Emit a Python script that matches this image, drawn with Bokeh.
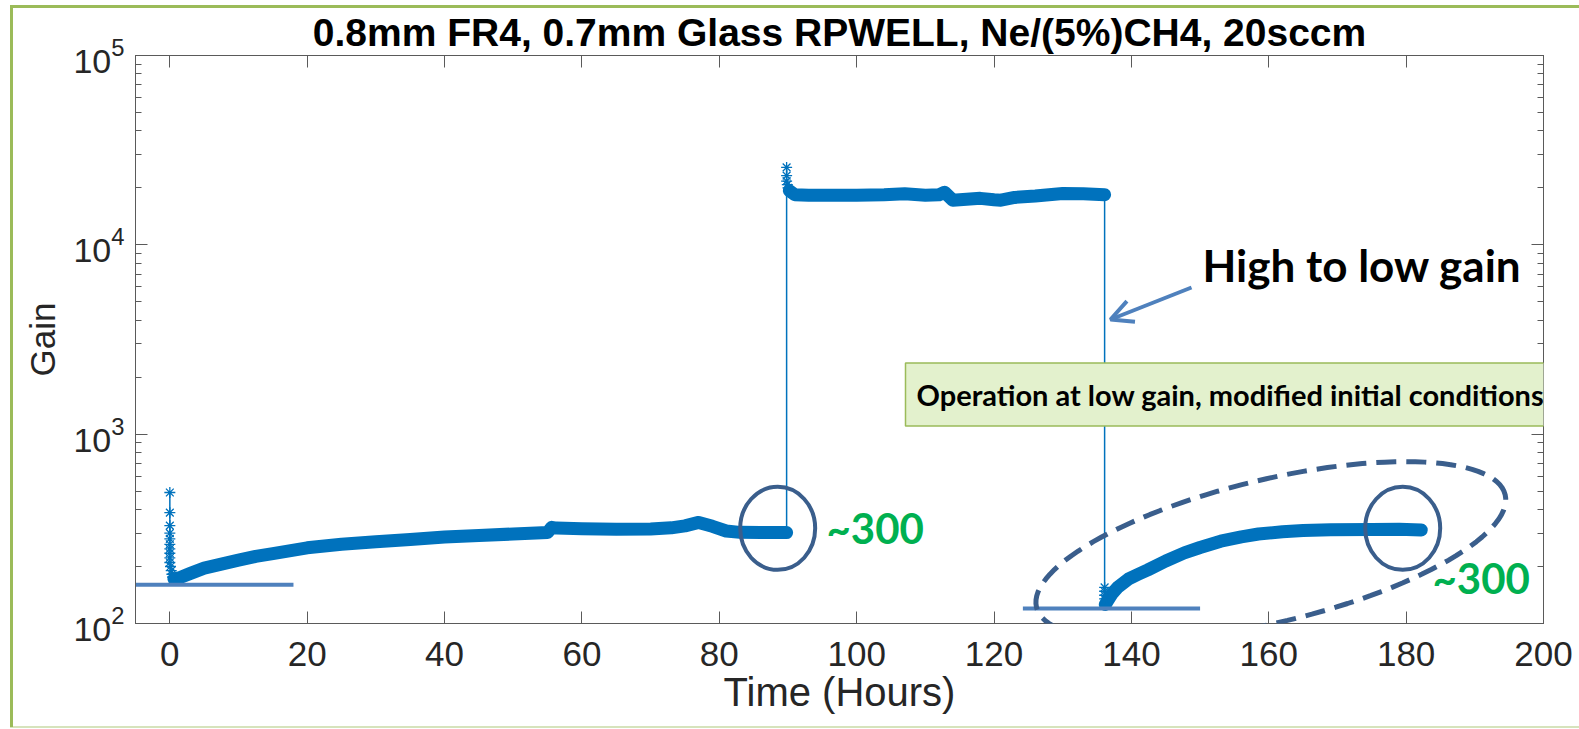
import math

from bokeh.plotting import figure
from bokeh.models import (Range1d, LinearAxis, LogAxis, SingleIntervalTicker, LogTicker,
                          Label, Arrow, OpenHead, PolyAnnotation, CustomJSTickFormatter)
from bokeh.embed import file_html
from bokeh.resources import INLINE

# ---------------- data: gain vs time (hours) ----------------
# start-up transient right after switching on
spike1_t = [0, 0, 0, 0, 0, 0, 0, 0, 0, 0, 0.1, 0.2, 0.3, 0.4]
spike1_g = [492, 385, 329, 300, 280, 262, 248, 235, 222, 210, 200, 190, 182, 176]

# first run at low gain
run1_t = [0.6, 1.5, 3, 5, 7.5, 10, 12.5, 15, 20, 25, 30, 35, 40, 45, 50, 55,
          55.6, 56.3, 60, 65, 70, 73, 75, 77, 79, 81, 83, 86, 89.8]
run1_g = [172, 175, 184, 196, 206, 216, 226, 234, 251, 262, 270, 278, 286, 292, 297, 302,
          322, 319, 317, 315, 316, 320, 328, 342, 326, 308, 303, 302, 302]

# switch to high gain
spike2_t = [89.8, 89.8, 89.8, 89.9, 90.0, 90.1]
spike2_g = [25650, 23200, 21700, 20800, 20000, 19500]

run2_t = [90.2, 91, 93, 96, 100, 104, 107, 110, 112, 112.8, 114, 116, 118, 120, 121,
          123, 126, 130, 133, 136.1]
run2_g = [19300, 18400, 18300, 18300, 18300, 18400, 18600, 18300, 18400, 18950, 17200,
          17400, 17600, 17300, 17200, 17800, 18100, 18650, 18600, 18400]

# back to low gain
spike3_t = [136.1, 136.1, 136.1, 136.1]
spike3_g = [155, 148, 141, 135]

run3_t = [136.2, 136.6, 137.2, 138, 139.6, 141, 142.4, 145, 147.7, 150, 153, 156,
          158.5, 162, 165, 169, 175, 179, 182.2]
run3_g = [126, 133, 144, 155, 172, 182, 192, 214, 236, 252, 272, 287, 297, 305, 310,
          313, 314, 315, 312]

# reference levels drawn by hand on the slide
ref_x0 = [-5, 124.2]
ref_x1 = [18, 150]
ref_g = [160, 120]

# "~300" markers
mark_t = [88.5, 179.5]
mark_g = [318, 318]

x_ticks_step = 20

# ---------------- layout ----------------
W, H = 1579, 729
FL, FT, FW, FH = 135, 55, 1408, 568        # plot frame box on the canvas (px)
X_LO, X_HI = -5, 200
Y_LO, Y_HI = 1e2, 1e5
LY0, LY1 = math.log10(Y_LO), math.log10(Y_HI)


def dx(px):
    """canvas pixel column -> time value"""
    return X_LO + (px - FL) * (X_HI - X_LO) / FW


def dy(py):
    """canvas pixel row -> gain value"""
    return 10 ** (LY0 + (FT + FH - py) * (LY1 - LY0) / FH)


def px_of(x):
    return FL + (x - X_LO) * FW / (X_HI - X_LO)


def py_of(g):
    return FT + FH - (math.log10(g) - LY0) * FH / (LY1 - LY0)


BLUE = "#0072BD"
AX = "#5a5a5a"
TXT = "#262626"
RING = "#3A5E8C"
OFFICE_BLUE = "#4F81BD"
GREEN = "#00B050"
SLIDE_GREEN = "#9BBB59"
BLANK = CustomJSTickFormatter(code="return ''")

# slide frame behind the (transparent) canvas border area
bar = "linear-gradient({c},{c})"
slide_bg = ", ".join([
    f"{bar.format(c=SLIDE_GREEN)} 10px 5px / 1700px 3px no-repeat",
    f"{bar.format(c=SLIDE_GREEN)} 10px 5px / 3px 722px no-repeat",
    f"{bar.format(c='#D6E3BC')} 10px 726px / 1700px 2px no-repeat",
    "white",
])

p = figure(width=W, height=H, x_range=Range1d(X_LO, X_HI), y_range=Range1d(Y_LO, Y_HI),
           y_axis_type="log", output_backend="svg", toolbar_location=None,
           min_border_left=FL, min_border_right=W - FL - FW,
           min_border_top=FT, min_border_bottom=H - FT - FH,
           title="0.8mm FR4, 0.7mm Glass RPWELL, Ne/(5%)CH4, 20sccm",
           styles={"background": slide_bg})
p.grid.visible = False
p.outline_line_color = AX
p.background_fill_color = "white"
p.border_fill_color = None

p.title.align = "center"
p.title.vertical_align = "top"
p.title.text_font = "Liberation Sans"
p.title.text_font_style = "bold"
p.title.text_font_size = "39px"
p.title.text_color = "black"
p.title.offset = 2
p.title.standoff = 0

# bottom axis
xa = p.xaxis[0]
xa.ticker = SingleIntervalTicker(interval=x_ticks_step, num_minor_ticks=0)
xa.major_tick_in = 12
xa.major_tick_out = 0
xa.minor_tick_in = 0
xa.minor_tick_out = 0
xa.axis_line_color = AX
xa.major_tick_line_color = AX
xa.major_label_text_font = "Liberation Sans"
xa.major_label_text_font_size = "35px"
xa.major_label_text_color = TXT
xa.major_label_standoff = 18
xa.axis_label = "Time (Hours)"
xa.axis_label_text_font = "Liberation Sans"
xa.axis_label_text_font_size = "40px"
xa.axis_label_text_font_style = "normal"
xa.axis_label_text_color = TXT
xa.axis_label_standoff = 1

# top axis (ticks only)
xt = LinearAxis(ticker=SingleIntervalTicker(interval=x_ticks_step, num_minor_ticks=0),
                formatter=BLANK, major_label_text_font_size="1px", major_label_standoff=0,
                major_tick_in=12, major_tick_out=0, minor_tick_in=0, minor_tick_out=0,
                axis_line_color=AX, major_tick_line_color=AX)
p.add_layout(xt, "above")

# left log axis
ya = p.yaxis[0]
ya.ticker = LogTicker(num_minor_ticks=10)
ya.major_tick_in = 12
ya.major_tick_out = 0
ya.minor_tick_in = 6
ya.minor_tick_out = 0
ya.axis_line_color = AX
ya.major_tick_line_color = AX
ya.minor_tick_line_color = AX
ya.major_label_text_font = "Liberation Sans"
ya.major_label_text_font_size = "34px"
ya.major_label_text_color = TXT
ya.major_label_standoff = 11
ya.axis_label = "Gain"
ya.axis_label_text_font = "Liberation Sans"
ya.axis_label_text_font_size = "35px"
ya.axis_label_text_font_style = "normal"
ya.axis_label_text_color = TXT
ya.axis_label_standoff = 8

yr = LogAxis(ticker=LogTicker(num_minor_ticks=10), formatter=BLANK,
             major_label_text_font_size="1px", major_label_standoff=0,
             major_tick_in=12, major_tick_out=0, minor_tick_in=6, minor_tick_out=0,
             axis_line_color=AX, major_tick_line_color=AX, minor_tick_line_color=AX)
p.add_layout(yr, "right")

# ---------------- measurement ----------------
all_t = spike1_t + run1_t + spike2_t + run2_t + spike3_t + run3_t
all_g = spike1_g + run1_g + spike2_g + run2_g + spike3_g + run3_g
p.line(all_t, all_g, line_color=BLUE, line_width=1.5)

for t, g in ((run1_t, run1_g), (run2_t, run2_g), (run3_t, run3_g)):
    p.line(t, g, line_color=BLUE, line_width=13, line_cap="round", line_join="round")

p.scatter(spike1_t + spike2_t + spike3_t, spike1_g + spike2_g + spike3_g,
          marker="asterisk", size=11, line_color=BLUE, line_width=1.3)

# ---------------- slide annotations ----------------
p.segment(x0=ref_x0, y0=ref_g, x1=ref_x1, y1=ref_g, line_color=OFFICE_BLUE, line_width=4)

p.ellipse(x=mark_t, y=mark_g, width=75, height=83, width_units="screen",
          height_units="screen", fill_color=None, line_color=RING, line_width=4)

# dashed ellipse around the last run
ecx, ecy = px_of(160.3), py_of(241.5)
ea, eb, eth = 241, 71.4, math.radians(13.5)
exs, eys = [], []
for i in range(121):
    s = 2 * math.pi * i / 120
    ux = ea * math.cos(s)
    uy = eb * math.sin(s)
    exs.append(dx(ecx + ux * math.cos(eth) - uy * math.sin(eth)))
    eys.append(dy(ecy - (ux * math.sin(eth) + uy * math.cos(eth))))
p.add_layout(PolyAnnotation(xs=exs, ys=eys, fill_alpha=0, line_color=RING, line_alpha=1,
                            line_width=5, line_dash="20 10"))

p.add_layout(Arrow(x_start=dx(1191), y_start=dy(287), x_end=dx(1110), y_end=dy(319),
                   line_color=OFFICE_BLUE, line_width=4,
                   end=OpenHead(size=22, line_color=OFFICE_BLUE, line_width=4)))

for px, py in ((826, 527), (1432, 577)):
    p.add_layout(Label(x=dx(px), y=dy(py), text="~300", text_align="left",
                       text_baseline="middle", text_font="Lato", text_font_style="bold",
                       text_font_size="42px", text_color=GREEN))

p.add_layout(Label(x=dx(1202), y=dy(264), text="High to low gain", text_align="left",
                   text_baseline="alphabetic", text_font="Lato", text_font_style="bold",
                   text_font_size="44px", text_color="black"))

p.add_layout(Label(x=dx(905), y=dy(394), text="Operation at low gain, modified initial conditions",
                   text_align="left", text_baseline="middle", text_font="Lato",
                   text_font_style="bold", text_font_size="29px", text_color="black",
                   background_fill_color="#E3F1CD", border_line_color=SLIDE_GREEN,
                   border_line_width=1.5, padding=(11, 14)))

open("out.html", "w").write(file_html(p, INLINE))
